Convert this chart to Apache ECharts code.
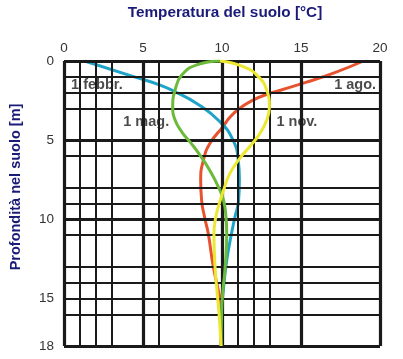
<!DOCTYPE html>
<html>
<head>
<meta charset="utf-8">
<script src="https://cdn.jsdelivr.net/npm/echarts@6/dist/echarts.min.js"></script>
<style>
html,body{margin:0;padding:0;background:#fff;}
#c{width:403px;height:359px;}
</style>
</head>
<body>
<div id="c"></div>
<script>
// Tick labels
var xTicks = [0, 5, 10, 15, 20];
var yTicks = [0, 5, 10, 15, 18];
// Grid lines (values)
var xGridThin = [1, 2, 3, 6, 11, 12, 13];
var xGridThick = [0, 5, 10, 15, 20];
var yGridThin = [1, 2, 3, 6, 8, 9, 11, 13, 14, 15, 16];
var yGridThick = [0, 5, 10, 18];

// Curves: temperature (°C) vs depth (m)
var febDepth = [0, 1, 1.52, 1.94, 2.68, 3.84, 5, 6.27, 7.5, 8.8, 9.85, 10.9, 12.6, 14.3, 15.8, 18];
var febTemp  = [1.3, 4.45, 6.08, 7.03, 8.4, 9.87, 10.7, 11.03, 11.1, 11.05, 10.82, 10.6, 10.3, 10.1, 9.98, 9.94];

var magDepth = [0, 0.25, 0.89, 1.84, 2.9, 3.73, 4.47, 5.2, 6.05, 6.9, 7.95, 8.8, 9.85, 10.9, 13, 14.7, 15.8, 18];
var magTemp  = [9.87, 8.4, 7.45, 7.03, 6.88, 7.03, 7.45, 8.05, 8.68, 9.22, 9.77, 10.1, 10.25, 10.3, 10.2, 10.04, 9.98, 9.94];

var agoDepth = [0, 0.75, 1.35, 1.8, 2.1, 2.5, 3.0, 3.55, 4.16, 5.2, 6.27, 7.53, 8.8, 9.96, 10.9, 13, 14.5, 15.55, 18];
var agoTemp  = [18.95, 17.1, 15.3, 13.85, 12.85, 11.9, 11.1, 10.5, 10.05, 9.24, 8.82, 8.65, 8.71, 8.92, 9.13, 9.45, 9.77, 9.94, 9.94];

var novDepth = [0, 0.36, 0.99, 1.84, 2.9, 3.73, 4.58, 5.42, 6.05, 7.1, 8.16, 9.2, 9.9, 10.9, 13, 14.7, 16.2, 18];
var novTemp  = [9.87, 11.35, 12.3, 12.83, 13.0, 12.83, 12.4, 11.75, 11.2, 10.5, 10.1, 9.77, 9.6, 9.49, 9.56, 9.7, 9.83, 9.94];

// Curve labels: text, anchor temperature, anchor depth
var leftLabels = [['1 febbr.', 0.45, 1.52], ['1 mag.', 3.75, 3.85], ['1 nov.', 13.45, 3.85]];
var rightLabels = [['1 ago.', 19.75, 1.52]];

var xTitle = 'Temperatura del suolo [°C]';
var yTitle = 'Profondità nel suolo [m]';

function pairs(t, d) { return t.map(function (v, i) { return [v, d[i]]; }); }

var FONT = '"Liberation Sans", Arial, sans-serif';
var chart = echarts.init(document.getElementById('c'), null, {renderer: 'canvas'});

function curve(name, t, d, color, z) {
  return {
    name: name, type: 'line', data: pairs(t, d), smooth: 0.5,
    showSymbol: false, symbol: 'none', z: z,
    lineStyle: {color: color, width: 3}, animation: false, silent: true
  };
}

function gridLines(vals, axis, width) {
  return vals.map(function (v) { var o = {}; o[axis] = v; o.lineStyle = {width: width}; return o; });
}

var gridSeries = {
  type: 'line', data: [], z: 1, silent: true, animation: false,
  markLine: {
    silent: true, symbol: ['none', 'none'], animation: false,
    label: {show: false},
    lineStyle: {color: '#1a1a1a', type: 'solid', width: 2},
    emphasis: {disabled: true},
    data: [].concat(
      gridLines(xGridThin, 'xAxis', 2),
      gridLines(yGridThin, 'yAxis', 2),
      gridLines(xGridThick, 'xAxis', 3.2),
      gridLines(yGridThick, 'yAxis', 3.2)
    )
  }
};

function labelSeries(items, pos) {
  return {
    type: 'scatter', symbolSize: 0, z: 10, silent: true, animation: false,
    data: items.map(function (it) { return [it[1], it[2], it[0]]; }),
    label: {
      show: true, position: pos, distance: 0,
      formatter: function (p) { return p.value[2]; },
      color: '#1c1c1c', fontFamily: FONT, fontWeight: 'bold', fontSize: 14.5
    }
  };
}

chart.setOption({
  backgroundColor: '#ffffff',
  animation: false,
  grid: {left: 64, right: 23, top: 61, bottom: 13, containLabel: false},
  xAxis: {
    type: 'value', position: 'top', min: 0, max: 20, interval: 5,
    axisLine: {show: false}, axisTick: {show: false}, splitLine: {show: false},
    axisLabel: {customValues: xTicks, color: '#333', fontFamily: FONT, fontSize: 13.5, margin: 6}
  },
  yAxis: {
    type: 'value', inverse: true, min: 0, max: 18,
    axisLine: {show: false}, axisTick: {show: false}, splitLine: {show: false},
    axisLabel: {customValues: yTicks, color: '#333', fontFamily: FONT, fontSize: 13.5, margin: 10}
  },
  graphic: [
    {type: 'text', x: 225, y: 13,
      style: {text: xTitle, fill: '#1a1a78', font: 'bold 15.3px ' + FONT, align: 'center', verticalAlign: 'middle'}},
    {type: 'text', x: 16, y: 187, rotation: Math.PI / 2,
      style: {text: yTitle, fill: '#1a1a78', font: 'bold 14.5px ' + FONT, align: 'center', verticalAlign: 'middle'}}
  ],
  series: [
    gridSeries,
    curve('1 ago.', agoTemp, agoDepth, '#e8532f', 3),
    curve('1 febbr.', febTemp, febDepth, '#1ea3c9', 4),
    curve('1 mag.', magTemp, magDepth, '#6cba3a', 5),
    curve('1 nov.', novTemp, novDepth, '#ece831', 6),
    labelSeries(leftLabels, 'right'),
    labelSeries(rightLabels, 'left')
  ]
});
</script>
</body>
</html>
